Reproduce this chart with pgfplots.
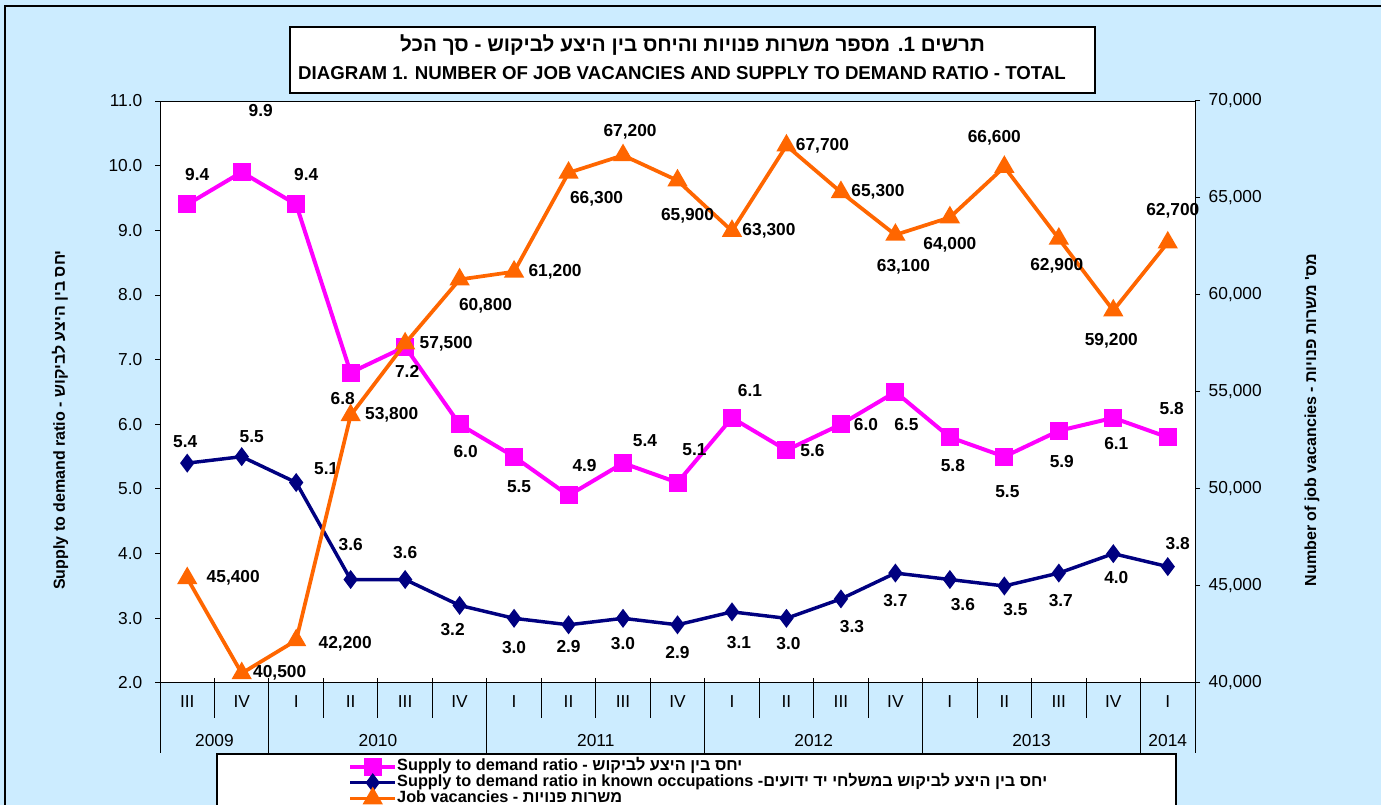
\documentclass[border=0pt]{standalone}
\usepackage{pgfplots}
\pgfplotsset{compat=1.18}
\usepackage{pgfplotstable}
\usepackage{fontspec}
\setmainfont{Liberation Sans}
\newfontfamily\heb[Script=Hebrew]{Liberation Sans}
\TeXXeTstate=1
\definecolor{bgblue}{HTML}{CCECFF}
\definecolor{cpink}{HTML}{FF00FF}
\definecolor{cnavy}{HTML}{000080}
\definecolor{corange}{HTML}{FF6600}

% x = category centre, y = value, dx = label shift right (px), dy = label shift up (px)
\pgfplotstableread{
x y dx dy lbl
0.5 9.4 10 30 9.4
1.5 9.9 19 62 9.9
2.5 9.4 10 30 9.4
3.5 6.8 -8 -26 6.8
4.5 7.2 2 -25 7.2
5.5 6.0 6 -27 6.0
6.5 5.5 5 -30 5.5
7.5 4.9 16 30 4.9
8.5 5.4 22 23 5.4
9.5 5.1 17 33 5.1
10.5 6.1 18 27 6.1
11.5 5.6 26 0 5.6
12.5 6.0 25 0 6.0
13.5 6.5 11 -33 6.5
14.5 5.8 3 -28 5.8
15.5 5.5 3 -35 5.5
16.5 5.9 3 -31 5.9
17.5 6.1 3 -26 6.1
18.5 5.8 4 29 5.8
}\pinkdata

\pgfplotstableread{
x y dx dy lbl
0.5 5.4 -2 22 5.4
1.5 5.5 10 20 5.5
2.5 5.1 30 14 5.1
3.5 3.6 0 35 3.6
4.5 3.6 0 27 3.6
5.5 3.2 -7 -24 3.2
6.5 3.0 0 -29 3.0
7.5 2.9 0 -22 2.9
8.5 3.0 0 -25 3.0
9.5 2.9 0 -28 2.9
10.5 3.1 7 -31 3.1
11.5 3.0 2 -25 3.0
12.5 3.3 11 -28 3.3
13.5 3.7 0 -27 3.7
14.5 3.6 13 -25 3.6
15.5 3.5 11 -24 3.5
16.5 3.7 2 -27 3.7
17.5 4.0 3 -24 4.0
18.5 3.8 10 23 3.8
}\navydata

\pgfplotstableread{
x y dx dy lbl
0.5 45400 46 0 45,400
1.5 40500 38 1 40,500
2.5 42200 49 -3 42,200
3.5 53800 41 0 53,800
4.5 57500 41 0 57,500
5.5 60800 26 -26 60,800
6.5 61200 41 0 61,200
7.5 66300 28 -26 66,300
8.5 67200 7 24 67,200
9.5 65900 10 -35 65,900
10.5 63300 37 0 63,300
11.5 67700 36 0 67,700
12.5 65300 37 0 65,300
13.5 63100 8 -32 63,100
14.5 64000 0 -27 64,000
15.5 66600 -10 29 66,600
16.5 62900 -2 -27 62,900
17.5 59200 -2 -30 59,200
18.5 62700 5 32 62,700
}\orangedata

\pgfplotsset{
  pinkline/.style={color=cpink, line width=3pt, mark=square*, mark size=5.25pt, mark options={solid}},
  navyline/.style={color=cnavy, line width=2.6pt, mark=diamond*, mark size=5pt, mark options={solid}},
  orangeline/.style={color=corange, line width=2.8pt, mark=triangle*, mark size=6pt, mark options={solid}},
  labelplot/.style={draw=none, mark=none, forget plot, nodes near coords, point meta=explicit symbolic,
    every node near coord/.append style={font=\fontsize{13}{15}\selectfont\bfseries, text=black, anchor=center, inner sep=0pt}},
}

\begin{document}
\begin{tikzpicture}
\useasboundingbox (0,0) rectangle (1035.75pt,603.75pt);
\fill[bgblue] (0,0) rectangle (1035.75pt,603.75pt);
\draw[line width=1.5pt] (3.75pt,-10pt) -- (3.75pt,599.25pt) -- (1050pt,599.25pt);

% title box
\node[draw, line width=1pt, fill=white, minimum width=603.75pt, minimum height=49.5pt, inner sep=0pt] at (519.4pt,558.75pt) {};
\node[font=\fontsize{15.5}{17}\selectfont\bfseries] at (519.4pt,570pt) {\heb\beginR תרשים 1. מספר משרות פנויות והיחס בין היצע לביקוש - סך הכל\endR};
\node[font=\fontsize{14}{16}\selectfont\bfseries] at (511.5pt,549pt) {DIAGRAM 1. NUMBER OF JOB VACANCIES AND SUPPLY TO DEMAND RATIO - TOTAL};

% axis titles
\node[rotate=90, font=\fontsize{12}{14}\selectfont\bfseries] at (45pt,288.75pt) {Supply to demand ratio - {\heb\beginR יחס בין היצע לביקוש\endR}};
\node[rotate=90, font=\fontsize{12}{14}\selectfont\bfseries] at (984pt,288.75pt) {Number of job vacancies - {\heb\beginR מס' משרות פנויות\endR}};

% legend box
\fill[white] (162.75pt,-10pt) rectangle (882pt,38.25pt);
\draw[line width=0.9pt] (162.75pt,-10pt) -- (162.75pt,38.25pt) -- (882pt,38.25pt) -- (882pt,-10pt);

\begin{axis}[
  at={(120pt,91.5pt)}, anchor=south west,
  width=776.25pt, height=436.5pt, scale only axis,
  xmin=0, xmax=19, ymin=2, ymax=11,
  axis background/.style={fill=white},
  axis line style={line width=0.75pt},
  ytick={2,3,...,11}, ytick pos=left,
  tick align=outside, major tick length=3.75pt,
  tick style={line width=0.75pt, black},
  yticklabel style={font=\fontsize{13}{15}\selectfont, xshift=-6pt, /pgf/number format/.cd, fixed, fixed zerofill, precision=1, assume math mode=true},
  xtick={0.5,1.5,...,18.5},
  xticklabels={III,IV,I,II,III,IV,I,II,III,IV,I,II,III,IV,I,II,III,IV,I},
  x tick style={draw=none},
  xticklabel style={font=\fontsize{13}{15}\selectfont, anchor=center, yshift=-10.5pt},
  xtick pos=bottom,
  clip=false,
]
\addplot[pinkline] table[x=x, y=y] {\pinkdata};
\addplot[navyline] table[x=x, y=y] {\navydata};
\addplot[labelplot] table[x expr=\thisrow{x}+\thisrow{dx}/54.47, y expr=\thisrow{y}+\thisrow{dy}/64.67, meta=lbl] {\pinkdata};
\addplot[labelplot] table[x expr=\thisrow{x}+\thisrow{dx}/54.47, y expr=\thisrow{y}+\thisrow{dy}/64.67, meta=lbl] {\navydata};

\pgfplotsinvokeforeach{1,3,4,5,7,8,9,11,12,13,15,16,17}{
  \draw[line width=0.75pt] ([yshift=3.75pt]axis cs:#1,2) -- ([yshift=-26.25pt]axis cs:#1,2);
}
\pgfplotsinvokeforeach{0,2,6,10,14,18,19}{
  \draw[line width=0.75pt] ([yshift=3.75pt]axis cs:#1,2) -- ([yshift=-52.5pt]axis cs:#1,2);
}
\node[font=\fontsize{13}{15}\selectfont] at ([yshift=-43.5pt]axis cs:1,2) {2009};
\node[font=\fontsize{13}{15}\selectfont] at ([yshift=-43.5pt]axis cs:4,2) {2010};
\node[font=\fontsize{13}{15}\selectfont] at ([yshift=-43.5pt]axis cs:8,2) {2011};
\node[font=\fontsize{13}{15}\selectfont] at ([yshift=-43.5pt]axis cs:12,2) {2012};
\node[font=\fontsize{13}{15}\selectfont] at ([yshift=-43.5pt]axis cs:16,2) {2013};
\node[font=\fontsize{13}{15}\selectfont] at ([yshift=-43.5pt]axis cs:18.5,2) {2014};
\end{axis}

\begin{axis}[
  at={(120pt,91.5pt)}, anchor=south west,
  width=776.25pt, height=436.5pt, scale only axis,
  xmin=0, xmax=19, ymin=40000, ymax=70000,
  axis x line=none, axis y line*=right,
  axis line style={line width=0.75pt, -},
  ytick={40000,45000,...,70000}, scaled y ticks=false,
  tick align=outside, major tick length=3.75pt,
  tick style={line width=0.75pt, black},
  yticklabel style={font=\fontsize{13}{15}\selectfont, xshift=3pt, /pgf/number format/.cd, fixed, 1000 sep={,}, assume math mode=true},
  clip=false,
  legend style={at={(0.1816,-0.131)}, anchor=north west, draw=none, fill=none, inner sep=0pt,
    font=\fontsize{12.2}{13}\selectfont\bfseries, row sep=0pt,
    nodes={inner sep=0pt, text height=8.6pt, text depth=3pt},
    /tikz/every even column/.append style={column sep=1pt}},
  legend cell align=left,
  legend image code/.code={\draw[mark repeat=2, mark phase=2, #1] plot coordinates {(0pt,0pt) (16.9pt,0pt) (33.75pt,0pt)};},
]
\addlegendimage{pinkline}
\addlegendentry{Supply to demand ratio - {\heb\beginR יחס בין היצע לביקוש\endR}}
\addlegendimage{navyline}
\addlegendentry{Supply to demand ratio in known occupations -{\heb\beginR יחס בין היצע לביקוש במשלחי יד ידועים\endR}}
\addplot[orangeline] table[x=x, y=y] {\orangedata};
\addlegendentry{Job vacancies - {\heb\beginR משרות פנויות\endR}}
\addplot[labelplot] table[x expr=\thisrow{x}+\thisrow{dx}/54.47, y expr=\thisrow{y}+\thisrow{dy}*51.55, meta=lbl] {\orangedata};
\end{axis}
\end{tikzpicture}
\end{document}
